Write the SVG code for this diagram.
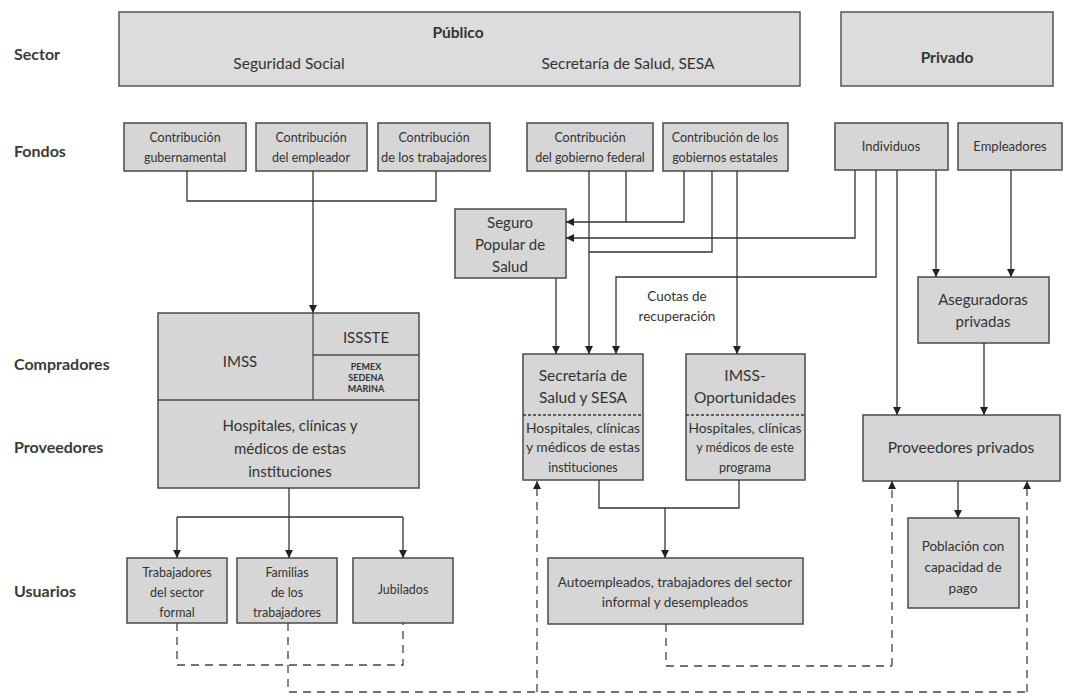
<svg xmlns="http://www.w3.org/2000/svg" width="1065" height="697" viewBox="0 0 1065 697">
<defs>
<marker id="ah" viewBox="0 0 10 10" refX="10" refY="5" markerWidth="9" markerHeight="8" markerUnits="userSpaceOnUse" orient="auto">
<path d="M0,0 L10,5 L0,10 z" fill="#222"/>
</marker>
</defs>
<style>
.box{fill:#d6d6d6;stroke:#4a4a4a;stroke-width:1.5}
.sec{fill:#dcdcdc;stroke:#555;stroke-width:1.5}
.ln{fill:none;stroke:#333;stroke-width:1.3}
.dl{fill:none;stroke:#444;stroke-width:1.3;stroke-dasharray:8 6}
.div{fill:none;stroke:#4a4a4a;stroke-width:1.3}
.dd{fill:none;stroke:#333;stroke-width:1.5;stroke-dasharray:3 2}
text{font-family:Lato,"Open Sans","Liberation Sans",sans-serif;fill:#333;text-anchor:middle}
.lab{font-size:16px;font-weight:bold;text-anchor:start;fill:#3a3a3a}
.t15{font-size:15px}
.t155{font-size:15.5px}
.t13{font-size:13px}
.t135{font-size:13.5px}
.t125{font-size:12.5px}
.b{font-weight:bold}
.sm{font-size:9px;font-weight:bold}
</style>
<rect width="1065" height="697" fill="#ffffff"/>

<g id="labels">
<text class="lab" x="14" y="60">Sector</text>
<text class="lab" x="14" y="157">Fondos</text>
<text class="lab" x="14" y="370">Compradores</text>
<text class="lab" x="14" y="453">Proveedores</text>
<text class="lab" x="14" y="597">Usuarios</text>
</g>

<g id="sector-publico">
<rect class="sec" x="119" y="12" width="681" height="74"/>
<text class="b" style="font-size:15.5px" x="458" y="38">Público</text>
<text class="t155" x="289" y="69">Seguridad Social</text>
<text class="t155" x="628" y="69">Secretaría de Salud, SESA</text>
</g>
<g id="sector-privado">
<rect class="sec" x="841" y="12" width="212" height="74"/>
<text class="b" style="font-size:15.5px" x="947" y="63">Privado</text>
</g>

<g id="f-gubernamental">
<rect class="box" x="124" y="123" width="122" height="48"/>
<text class="t125" x="185" y="142">Contribución</text>
<text class="t125" x="185" y="162">gubernamental</text>
</g>
<g id="f-empleador">
<rect class="box" x="256" y="123" width="111" height="48"/>
<text class="t125" x="311" y="142">Contribución</text>
<text class="t125" x="311" y="162">del empleador</text>
</g>
<g id="f-trabajadores">
<rect class="box" x="378" y="123" width="112" height="48"/>
<text class="t125" x="434" y="142">Contribución</text>
<text class="t125" x="434" y="162" textLength="106" lengthAdjust="spacingAndGlyphs">de los trabajadores</text>
</g>
<g id="f-federal">
<rect class="box" x="527" y="123" width="126" height="48"/>
<text class="t125" x="590" y="142">Contribución</text>
<text class="t125" x="590" y="162">del gobierno federal</text>
</g>
<g id="f-estatales">
<rect class="box" x="663" y="123" width="125" height="48"/>
<text class="t125" x="725" y="142">Contribución de los</text>
<text class="t125" x="725" y="162">gobiernos estatales</text>
</g>
<g id="f-individuos">
<rect class="box" x="835" y="123" width="113" height="47"/>
<text class="t13" x="891" y="151">Individuos</text>
</g>
<g id="f-empleadores">
<rect class="box" x="958" y="123" width="104" height="47"/>
<text class="t13" x="1010" y="151">Empleadores</text>
</g>

<g id="seguro-popular">
<rect class="box" x="455" y="209" width="111" height="69"/>
<text class="t15" x="510" y="228">Seguro</text>
<text class="t15" x="510" y="250">Popular de</text>
<text class="t15" x="510" y="272">Salud</text>
</g>

<g id="imss-grupo">
<rect class="box" x="158" y="313" width="261" height="175"/>
<line class="div" x1="313" y1="313" x2="313" y2="400"/>
<line class="div" x1="313" y1="355" x2="419" y2="355"/>
<line class="div" x1="158" y1="400" x2="419" y2="400"/>
<text class="t15" x="240" y="367">IMSS</text>
<text class="t15" x="366" y="343">ISSSTE</text>
<text class="sm" x="366" y="370">PEMEX</text>
<text class="sm" x="366" y="381">SEDENA</text>
<text class="sm" x="366" y="392">MARINA</text>
<text class="t15" x="290" y="431">Hospitales, clínicas y</text>
<text class="t15" x="290" y="454">médicos de estas</text>
<text class="t15" x="290" y="477">instituciones</text>
</g>

<g id="secretaria-grupo">
<rect class="box" x="523" y="354" width="120" height="126"/>
<line class="dd" x1="523" y1="415" x2="643" y2="415"/>
<text class="t155" x="583" y="381">Secretaría de</text>
<text class="t155" x="583" y="403">Salud y SESA</text>
<text class="t125" x="583" y="433" textLength="114" lengthAdjust="spacingAndGlyphs">Hospitales, clínicas</text>
<text class="t125" x="583" y="452" textLength="114" lengthAdjust="spacingAndGlyphs">y médicos de estas</text>
<text class="t125" x="583" y="472">instituciones</text>
</g>

<g id="imss-oportunidades">
<rect class="box" x="686" y="354" width="119" height="126"/>
<line class="dd" x1="686" y1="415" x2="805" y2="415"/>
<text class="t155" x="745" y="381">IMSS-</text>
<text class="t155" x="745" y="403">Oportunidades</text>
<text class="t125" x="745" y="433" textLength="113" lengthAdjust="spacingAndGlyphs">Hospitales, clínicas</text>
<text class="t125" x="745" y="452">y médicos de este</text>
<text class="t125" x="745" y="472">programa</text>
</g>

<g id="aseguradoras">
<rect class="box" x="918" y="277" width="131" height="66"/>
<text class="t15" x="983" y="305">Aseguradoras</text>
<text class="t15" x="983" y="327">privadas</text>
</g>

<g id="proveedores-privados">
<rect class="box" x="863" y="415" width="197" height="66"/>
<text class="t155" x="961" y="453">Proveedores privados</text>
</g>

<g id="poblacion">
<rect class="box" x="908" y="518" width="111" height="90"/>
<text class="t135" x="963" y="551">Población con</text>
<text class="t135" x="963" y="572">capacidad de</text>
<text class="t135" x="963" y="593">pago</text>
</g>

<g id="u-trabajadores">
<rect class="box" x="127" y="558" width="100" height="65"/>
<text class="t125" x="177" y="577">Trabajadores</text>
<text class="t125" x="177" y="597">del sector</text>
<text class="t125" x="177" y="617">formal</text>
</g>
<g id="u-familias">
<rect class="box" x="237" y="558" width="100" height="65"/>
<text class="t125" x="287" y="577">Familias</text>
<text class="t125" x="287" y="597">de los</text>
<text class="t125" x="287" y="617">trabajadores</text>
</g>
<g id="u-jubilados">
<rect class="box" x="353" y="558" width="100" height="65"/>
<text class="t125" x="403" y="594">Jubilados</text>
</g>
<g id="u-autoempleados">
<rect class="box" x="548" y="558" width="255" height="66"/>
<text class="t135" x="675" y="587">Autoempleados, trabajadores del sector</text>
<text class="t135" x="675" y="607">informal y desempleados</text>
</g>

<g id="cuotas">
<text class="t135" x="677" y="301">Cuotas de</text>
<text class="t135" x="677" y="321">recuperación</text>
</g>

<g id="connectors">
<polyline class="ln" points="187,171 187,201 436,201 436,171"/>
<line class="ln" x1="313" y1="171" x2="313" y2="313" marker-end="url(#ah)"/>

<line class="ln" x1="589" y1="171" x2="589" y2="354" marker-end="url(#ah)"/>
<polyline class="ln" points="626,171 626,222"/>
<polyline class="ln" points="684,171 684,222 566,222" marker-end="url(#ah)"/>
<polyline class="ln" points="712,171 712,252 589,252"/>
<line class="ln" x1="737" y1="171" x2="737" y2="354" marker-end="url(#ah)"/>
<polyline class="ln" points="855,170 855,238 566,238" marker-end="url(#ah)"/>
<polyline class="ln" points="876,170 876,277 616,277 616,354" marker-end="url(#ah)"/>
<line class="ln" x1="897" y1="170" x2="897" y2="415" marker-end="url(#ah)"/>
<line class="ln" x1="936" y1="170" x2="936" y2="277" marker-end="url(#ah)"/>
<line class="ln" x1="1011" y1="170" x2="1011" y2="277" marker-end="url(#ah)"/>
<line class="ln" x1="556" y1="278" x2="556" y2="354" marker-end="url(#ah)"/>
<line class="ln" x1="984" y1="343" x2="984" y2="415" marker-end="url(#ah)"/>
<line class="ln" x1="958" y1="481" x2="958" y2="518" marker-end="url(#ah)"/>

<line class="ln" x1="289" y1="488" x2="289" y2="558" marker-end="url(#ah)"/>
<line class="ln" x1="177" y1="517" x2="403" y2="517"/>
<line class="ln" x1="177" y1="517" x2="177" y2="558" marker-end="url(#ah)"/>
<line class="ln" x1="403" y1="517" x2="403" y2="558" marker-end="url(#ah)"/>

<polyline class="ln" points="599,480 599,508 739,508 739,480"/>
<line class="ln" x1="665" y1="508" x2="665" y2="558" marker-end="url(#ah)"/>

<polyline class="dl" points="177,623 177,665 403,665 403,623"/>
<polyline class="dl" points="288,623 288,692 1027,692"/>
<line class="dl" x1="537" y1="692" x2="537" y2="481" marker-end="url(#ah)"/>
<line class="dl" x1="1027" y1="692" x2="1027" y2="481" marker-end="url(#ah)"/>
<polyline class="dl" points="666,624 666,666 892,666"/>
<line class="dl" x1="892" y1="666" x2="892" y2="481" marker-end="url(#ah)"/>
</g>
</svg>
